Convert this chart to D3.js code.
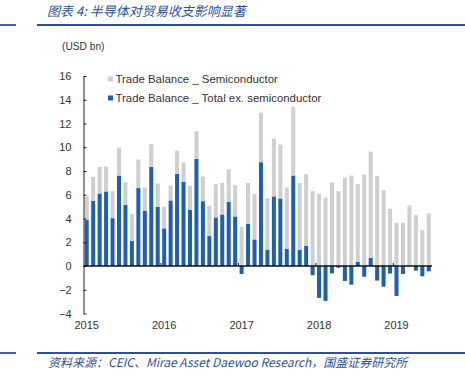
<!DOCTYPE html>
<html>
<head>
<meta charset="utf-8">
<script src="https://cdn.jsdelivr.net/npm/d3@7"></script>
<style>
  body { margin: 0; background: #fff; }
  svg { display: block; font-family: "Liberation Sans", Arial, sans-serif; }
</style>
</head>
<body>
<svg width="465" height="376"></svg>
<script>
// Monthly data, Jan 2015 - Jun 2019 (USD bn)
const years = [2015, 2016, 2017, 2018, 2019];
const months = [];
for (let y of years) {
    for (let m = 1; m <= 12; m++) {
        if (y === 2019 && m > 6) break;
        months.push(y + "-" + String(m).padStart(2, "0"));
    }
}

// Trade Balance _ Total ex. semiconductor
const totalEx = [
    3.87, 5.49, 6.11, 6.28, 4.03, 7.62, 5.16, 2.10, 6.56, 4.65, 8.35, 4.99,
    3.17, 5.52, 7.76, 7.09, 4.74, 9.02, 5.46, 2.52, 4.09, 4.34, 5.41, 4.17,
    -0.67, 3.56, 2.24, 8.74, 1.37, 5.86, 5.69, 1.46, 7.62, 1.37, 1.71, -0.78,
    -2.69, -2.94, -0.62, -0.15, -1.26, -1.57, 0.36, -0.90, 0.70, -1.23, -1.74, -0.64,
    -2.52, -0.67, -0.03, -0.39, -0.87, -0.45
];

// Trade Balance _ Semiconductor
const semiconductor = [
    1.99, 2.02, 2.24, 2.10, 2.27, 2.35, 1.90, 2.27, 2.41, 1.96, 1.90, 1.96,
    1.82, 1.26, 1.96, 1.62, 2.01, 2.33, 2.08, 2.55, 2.80, 2.66, 2.74, 2.64,
    3.31, 3.44, 3.81, 4.18, 4.32, 4.87, 4.54, 5.15, 5.80, 5.61, 6.02, 6.30,
    6.08, 5.77, 7.03, 6.30, 7.45, 7.62, 6.56, 7.70, 8.94, 7.59, 6.39, 4.82,
    3.64, 3.64, 5.10, 4.29, 3.00, 4.43
];

const yTicks = [-4, -2, 0, 2, 4, 6, 8, 10, 12, 14, 16];
const seriesNames = ["Trade Balance _ Semiconductor", "Trade Balance _ Total ex. semiconductor"];
const colors = { semi: "#cfcfcf", totalEx: "#1f5fad" };
const accent = "#2b4f9e";

function drawChart() {
    let svg = d3.select("svg");
    svg.selectAll("*").remove();

    let attr_area = { left: 83.5, right: 432, top: 76, bottom: 313.5 };

    // Table for the stack
    let table = months.map((m, i) => ({ month: m, totalEx: totalEx[i], semi: semiconductor[i] }));
    let stack = d3.stack().keys(["totalEx", "semi"]).offset(d3.stackOffsetDiverging);
    let series = stack(table);

    let scX = d3.scaleBand()
        .domain(months)
        .range([attr_area.left, attr_area.right])
        .paddingInner(0.38)
        .paddingOuter(0.19);

    let scY = d3.scaleLinear()
        .domain([-4, 16])
        .range([attr_area.bottom, attr_area.top]);

    drawHeader(svg);

    // Bars
    svg.append("g")
        .selectAll("g")
        .data(series)
        .enter()
        .append("g")
        .attr("fill", d => colors[d.key])
        .selectAll("rect")
        .data(d => d)
        .enter()
        .append("rect")
        .attr("x", d => scX(d.data.month))
        .attr("width", scX.bandwidth())
        .attr("y", d => scY(Math.max(d[0], d[1])))
        .attr("height", d => Math.abs(scY(d[0]) - scY(d[1])));

    // Y axis
    let axisY = d3.axisLeft(scY)
        .tickValues(yTicks)
        .tickFormat(d => d < 0 ? "\u2212" + Math.abs(d) : d)
        .tickSizeInner(-3)
        .tickSizeOuter(0)
        .tickPadding(12);
    let gY = svg.append("g")
        .attr("transform", `translate(${attr_area.left}, 0)`)
        .call(axisY);
    gY.select(".domain").attr("stroke", "#222");
    gY.selectAll(".tick line").attr("stroke", "#222");
    gY.selectAll("text").attr("font-size", 11).attr("fill", "#333")
        .attr("font-family", "Liberation Sans, Arial, sans-serif");

    // Zero line
    svg.append("line")
        .attr("x1", attr_area.left).attr("x2", attr_area.right)
        .attr("y1", scY(0)).attr("y2", scY(0))
        .attr("stroke", "#111").attr("stroke-width", 1.3);

    // Year boundary ticks on the zero line
    let step = scX.step();
    let starts = years.slice(1).map(y => y + "-01");
    svg.append("g")
        .selectAll("line")
        .data(starts)
        .enter()
        .append("line")
        .attr("x1", d => scX(d) - (step - scX.bandwidth()) / 2)
        .attr("x2", d => scX(d) - (step - scX.bandwidth()) / 2)
        .attr("y1", scY(0))
        .attr("y2", scY(0) - 3)
        .attr("stroke", "#111");

    // X labels at January of each year
    let axisX = d3.axisBottom(scX)
        .tickValues(years.map(y => y + "-01"))
        .tickFormat(d => d.slice(0, 4))
        .tickSize(0)
        .tickPadding(8);
    let gX = svg.append("g")
        .attr("transform", `translate(0, ${attr_area.bottom})`)
        .call(axisX);
    gX.select(".domain").remove();
    gX.selectAll("text").attr("font-size", 11).attr("fill", "#333")
        .attr("font-family", "Liberation Sans, Arial, sans-serif");

    // Unit label
    svg.append("text")
        .attr("x", 62).attr("y", 50)
        .attr("font-size", 10.2).attr("fill", "#333")
        .text("(USD bn)");

    // Legend
    let legend = svg.append("g");
    [["semi", 79], ["totalEx", 98]].forEach((d, i) => {
        legend.append("rect")
            .attr("x", 108).attr("y", d[1] - 2.5)
            .attr("width", 5).attr("height", 5)
            .attr("fill", colors[d[0]]);
        legend.append("text")
            .attr("x", 115.5).attr("y", d[1])
            .attr("dy", "0.35em")
            .attr("font-size", 11.4).attr("fill", "#333")
            .text(seriesNames[i]);
    });
}

function drawHeader(svg) {
    const cjk = "'Noto Sans CJK SC', sans-serif";
    svg.append("text")
        .attr("x", 47).attr("y", 16)
        .attr("font-family", cjk)
        .attr("font-style", "italic")
        .attr("font-size", 13)
        .attr("fill", accent)
        .text("图表 4:  半导体对贸易收支影响显著");

    // Rule lines at top and bottom
    [25, 353].forEach(y => {
        svg.append("line").attr("x1", 0).attr("x2", 16).attr("y1", y).attr("y2", y)
            .attr("stroke", accent).attr("stroke-width", 1.8);
        svg.append("line").attr("x1", 37).attr("x2", 465).attr("y1", y).attr("y2", y)
            .attr("stroke", accent).attr("stroke-width", 1.8);
    });

    svg.append("text")
        .attr("x", 48).attr("y", 366.5)
        .attr("font-family", cjk)
        .attr("font-style", "italic")
        .attr("font-size", 12)
        .attr("fill", accent)
        .text("资料来源：CEIC、Mirae Asset Daewoo Research，国盛证券研究所");
}

drawChart();
</script>
</body>
</html>
